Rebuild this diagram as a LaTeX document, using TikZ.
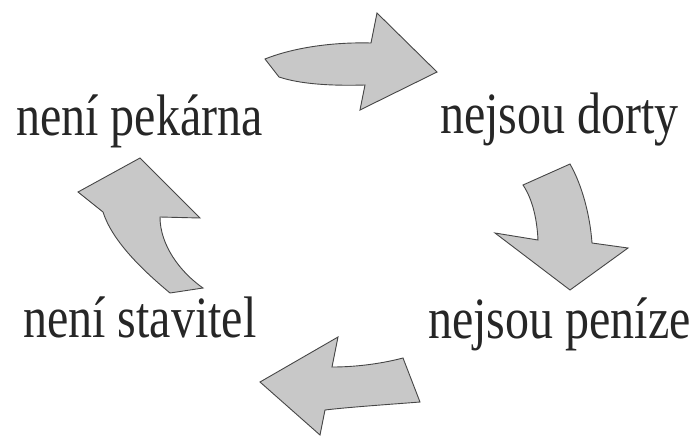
\documentclass[tikz,border=0pt]{standalone}
\usepackage{fontspec}
\setmainfont{Liberation Serif}
\definecolor{arrowfill}{RGB}{200,200,200}
\definecolor{arrowline}{RGB}{70,70,70}
\tikzset{
  bigarrow/.style={fill=arrowfill, draw=arrowline, line width=0.9pt, line join=miter},
  word/.style={inner sep=0pt, anchor=base west, text=black!85, font=\fontsize{48}{50}\selectfont}
}
\newcommand{\tallword}[1]{\scalebox{1}[1.22]{#1}}
\begin{document}
\begin{tikzpicture}[x=1pt,y=-1pt]
\useasboundingbox (0,0) rectangle (695,437);
% labels
\node[word] (pek) at (16,135) {\tallword{není pekárna}};
\node[word] (dor) at (440,133) {\tallword{nejsou dorty}};
\node[word] (sta) at (23,337) {\tallword{není stavitel}};
\node[word] (pen) at (428,338) {\tallword{nejsou peníze}};
% arrow top (pointing right)
\draw[bigarrow] (265,59) .. controls (295,47) and (335,42) .. (371,43)
  -- (377,13) -- (437,72) -- (360,110) -- (365,85)
  .. controls (330,86) and (300,84) .. (279,77) -- cycle;
% arrow right (pointing down)
\draw[bigarrow] (523,185) -- (570,164)
  .. controls (582,185) and (590,215) .. (592,243)
  -- (628,248) -- (570,290) -- (495,233) -- (538,240)
  .. controls (537,220) and (533,200) .. cycle;
% arrow bottom (pointing left)
\draw[bigarrow] (260,382) -- (338,337) -- (332,367)
  .. controls (355,367) and (380,364) .. (403,358)
  -- (420,402)
  .. controls (395,404) and (350,407) .. (325,410)
  -- (320,435) -- cycle;
% arrow left (pointing up)
\draw[bigarrow] (140,158) -- (200,218) -- (160,217)
  .. controls (160,245) and (180,272) .. (203,288)
  -- (170,293)
  .. controls (140,268) and (112,240) .. (103,212)
  -- (78,192) -- cycle;
\end{tikzpicture}
\end{document}
